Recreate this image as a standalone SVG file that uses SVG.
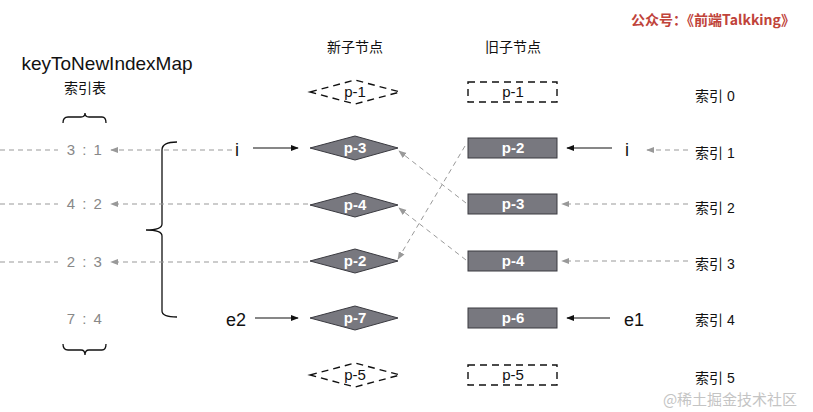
<svg xmlns="http://www.w3.org/2000/svg" width="813" height="412" viewBox="0 0 813 412">
<defs>
<style>
text{font-family:"Liberation Sans","Noto Sans CJK SC",sans-serif;}
.cjk{font-family:"Noto Sans CJK SC","Liberation Sans",sans-serif;font-size:14px;fill:#111;}
.map{font-size:15px;fill:#888;text-anchor:middle;letter-spacing:1.5px;}
.nd{fill:#78787f;stroke:#3a3a40;stroke-width:1;}
.nt{fill:#fff;font-size:15px;font-weight:bold;text-anchor:middle;}
.dn{fill:#fff;stroke:#111;stroke-width:1.4;stroke-dasharray:7 5;}
.dt{fill:#111;font-size:15px;text-anchor:middle;}
.gd{stroke:#999;stroke-width:1;stroke-dasharray:5 4;fill:none;}
.ga{stroke:#999;stroke-width:1;stroke-dasharray:5 4;fill:none;marker-end:url(#ga);}
.sa{stroke:#111;stroke-width:1.2;fill:none;marker-end:url(#sa);}
.lbl{font-size:18px;fill:#111;}
.br{stroke:#111;stroke-width:1.3;fill:none;}
</style>
<marker id="ga" viewBox="0 0 10 10" refX="9" refY="5" markerWidth="8" markerHeight="8" orient="auto" markerUnits="userSpaceOnUse"><path d="M0,1 L10,5 L0,9 z" fill="#999"/></marker>
<marker id="sa" viewBox="0 0 10 10" refX="9" refY="5" markerWidth="8" markerHeight="8" orient="auto" markerUnits="userSpaceOnUse"><path d="M0,1 L10,5 L0,9 z" fill="#111"/></marker>
</defs>
<rect width="813" height="412" fill="#fff"/>

<g id="titles">
<text x="107" y="70" font-size="19" text-anchor="middle" fill="#111">keyToNewIndexMap</text>
<text x="85" y="93" class="cjk" text-anchor="middle">索引表</text>
<text x="355" y="52" class="cjk" text-anchor="middle">新子节点</text>
<text x="513" y="52" class="cjk" text-anchor="middle">旧子节点</text>
<text x="713" y="25" font-size="14" font-weight="bold" fill="#c0433a" text-anchor="middle" style="font-family:'Noto Sans CJK SC','Liberation Sans',sans-serif">公众号：《前端Talkking》</text>
<text x="730" y="405" font-size="15" fill="#c4c4c4" text-anchor="middle" style="font-family:'Noto Sans CJK SC','Liberation Sans',sans-serif">@稀土掘金技术社区</text>
</g>

<g id="braces">
<path class="br" d="M63,123 Q63,117 68,117 L81,117 Q85,117 85,113 Q85,117 89,117 L102,117 Q106,117 106,123"/>
<path class="br" d="M63,344 Q63,350 68,350 L81,350 Q85,350 85,355 Q85,350 89,350 L102,350 Q106,350 106,344"/>
<path class="br" d="M177,142 Q162,142 162,150 L162,224 Q162,230 146,230 Q162,230 162,236 L162,311 Q162,317 177,317"/>
</g>

<g id="map">
<text x="85" y="155" class="map">3 : 1</text>
<text x="85" y="209" class="map">4 : 2</text>
<text x="85" y="267" class="map">2 : 3</text>
<text x="85" y="324" class="map">7 : 4</text>
</g>

<g id="index-labels" class="cjk">
<text x="695" y="101">索引 0</text>
<text x="695" y="158">索引 1</text>
<text x="695" y="213">索引 2</text>
<text x="695" y="269">索引 3</text>
<text x="695" y="325">索引 4</text>
<text x="695" y="383">索引 5</text>
</g>

<g id="pointers">
<text x="237" y="156" class="lbl" text-anchor="middle">i</text>
<text x="236" y="326" class="lbl" text-anchor="middle">e2</text>
<text x="627" y="156" class="lbl" text-anchor="middle">i</text>
<text x="634" y="326" class="lbl" text-anchor="middle">e1</text>
</g>

<g id="new-p1"><polygon class="dn" points="310,92 355,80 400,92 355,104"/><text x="355" y="97" class="dt">p-1</text></g>
<g id="new-p3"><polygon class="nd" points="310,148 355,136 398,148 355,160"/><text x="355" y="153" class="nt">p-3</text></g>
<g id="new-p4"><polygon class="nd" points="310,205 355,193 398,205 355,217"/><text x="355" y="210" class="nt">p-4</text></g>
<g id="new-p2"><polygon class="nd" points="310,261 355,249 398,261 355,273"/><text x="355" y="266" class="nt">p-2</text></g>
<g id="new-p7"><polygon class="nd" points="310,318 355,306 398,318 355,330"/><text x="355" y="323" class="nt">p-7</text></g>
<g id="new-p5"><polygon class="dn" points="310,375 355,363 400,375 355,387"/><text x="355" y="380" class="dt">p-5</text></g>

<g id="old-p1"><rect class="dn" x="468" y="82" width="89" height="20"/><text x="513" y="97" class="dt">p-1</text></g>
<g id="old-p2"><rect class="nd" x="468" y="138" width="89" height="20"/><text x="513" y="153" class="nt">p-2</text></g>
<g id="old-p3"><rect class="nd" x="468" y="194" width="89" height="20"/><text x="513" y="209" class="nt">p-3</text></g>
<g id="old-p4"><rect class="nd" x="468" y="251" width="89" height="20"/><text x="513" y="266" class="nt">p-4</text></g>
<g id="old-p6"><rect class="nd" x="468" y="308" width="89" height="20"/><text x="513" y="323" class="nt">p-6</text></g>
<g id="old-p5"><rect class="dn" x="468" y="365" width="89" height="20"/><text x="513" y="380" class="dt">p-5</text></g>

<g id="connectors">
<line class="gd" x1="0" y1="150" x2="58" y2="150"/>
<line class="gd" x1="0" y1="204" x2="58" y2="204"/>
<line class="gd" x1="0" y1="262" x2="58" y2="262"/>
<line class="ga" x1="232" y1="150" x2="111" y2="150"/>
<line class="ga" x1="308" y1="204" x2="111" y2="204"/>
<line class="ga" x1="308" y1="262" x2="111" y2="262"/>
<line class="sa" x1="253" y1="148" x2="298" y2="148"/>
<line class="sa" x1="255" y1="318" x2="298" y2="318"/>
<line class="sa" x1="612" y1="148" x2="567" y2="148"/>
<line class="sa" x1="610" y1="318" x2="567" y2="318"/>
<line class="ga" x1="688" y1="150" x2="647" y2="150"/>
<line class="ga" x1="688" y1="204" x2="562" y2="204"/>
<line class="ga" x1="688" y1="261" x2="562" y2="261"/>
<line class="ga" x1="465" y1="146" x2="398" y2="259"/>
<line class="ga" x1="466" y1="203" x2="399" y2="151"/>
<line class="ga" x1="466" y1="260" x2="399" y2="208"/>
</g>
</svg>
